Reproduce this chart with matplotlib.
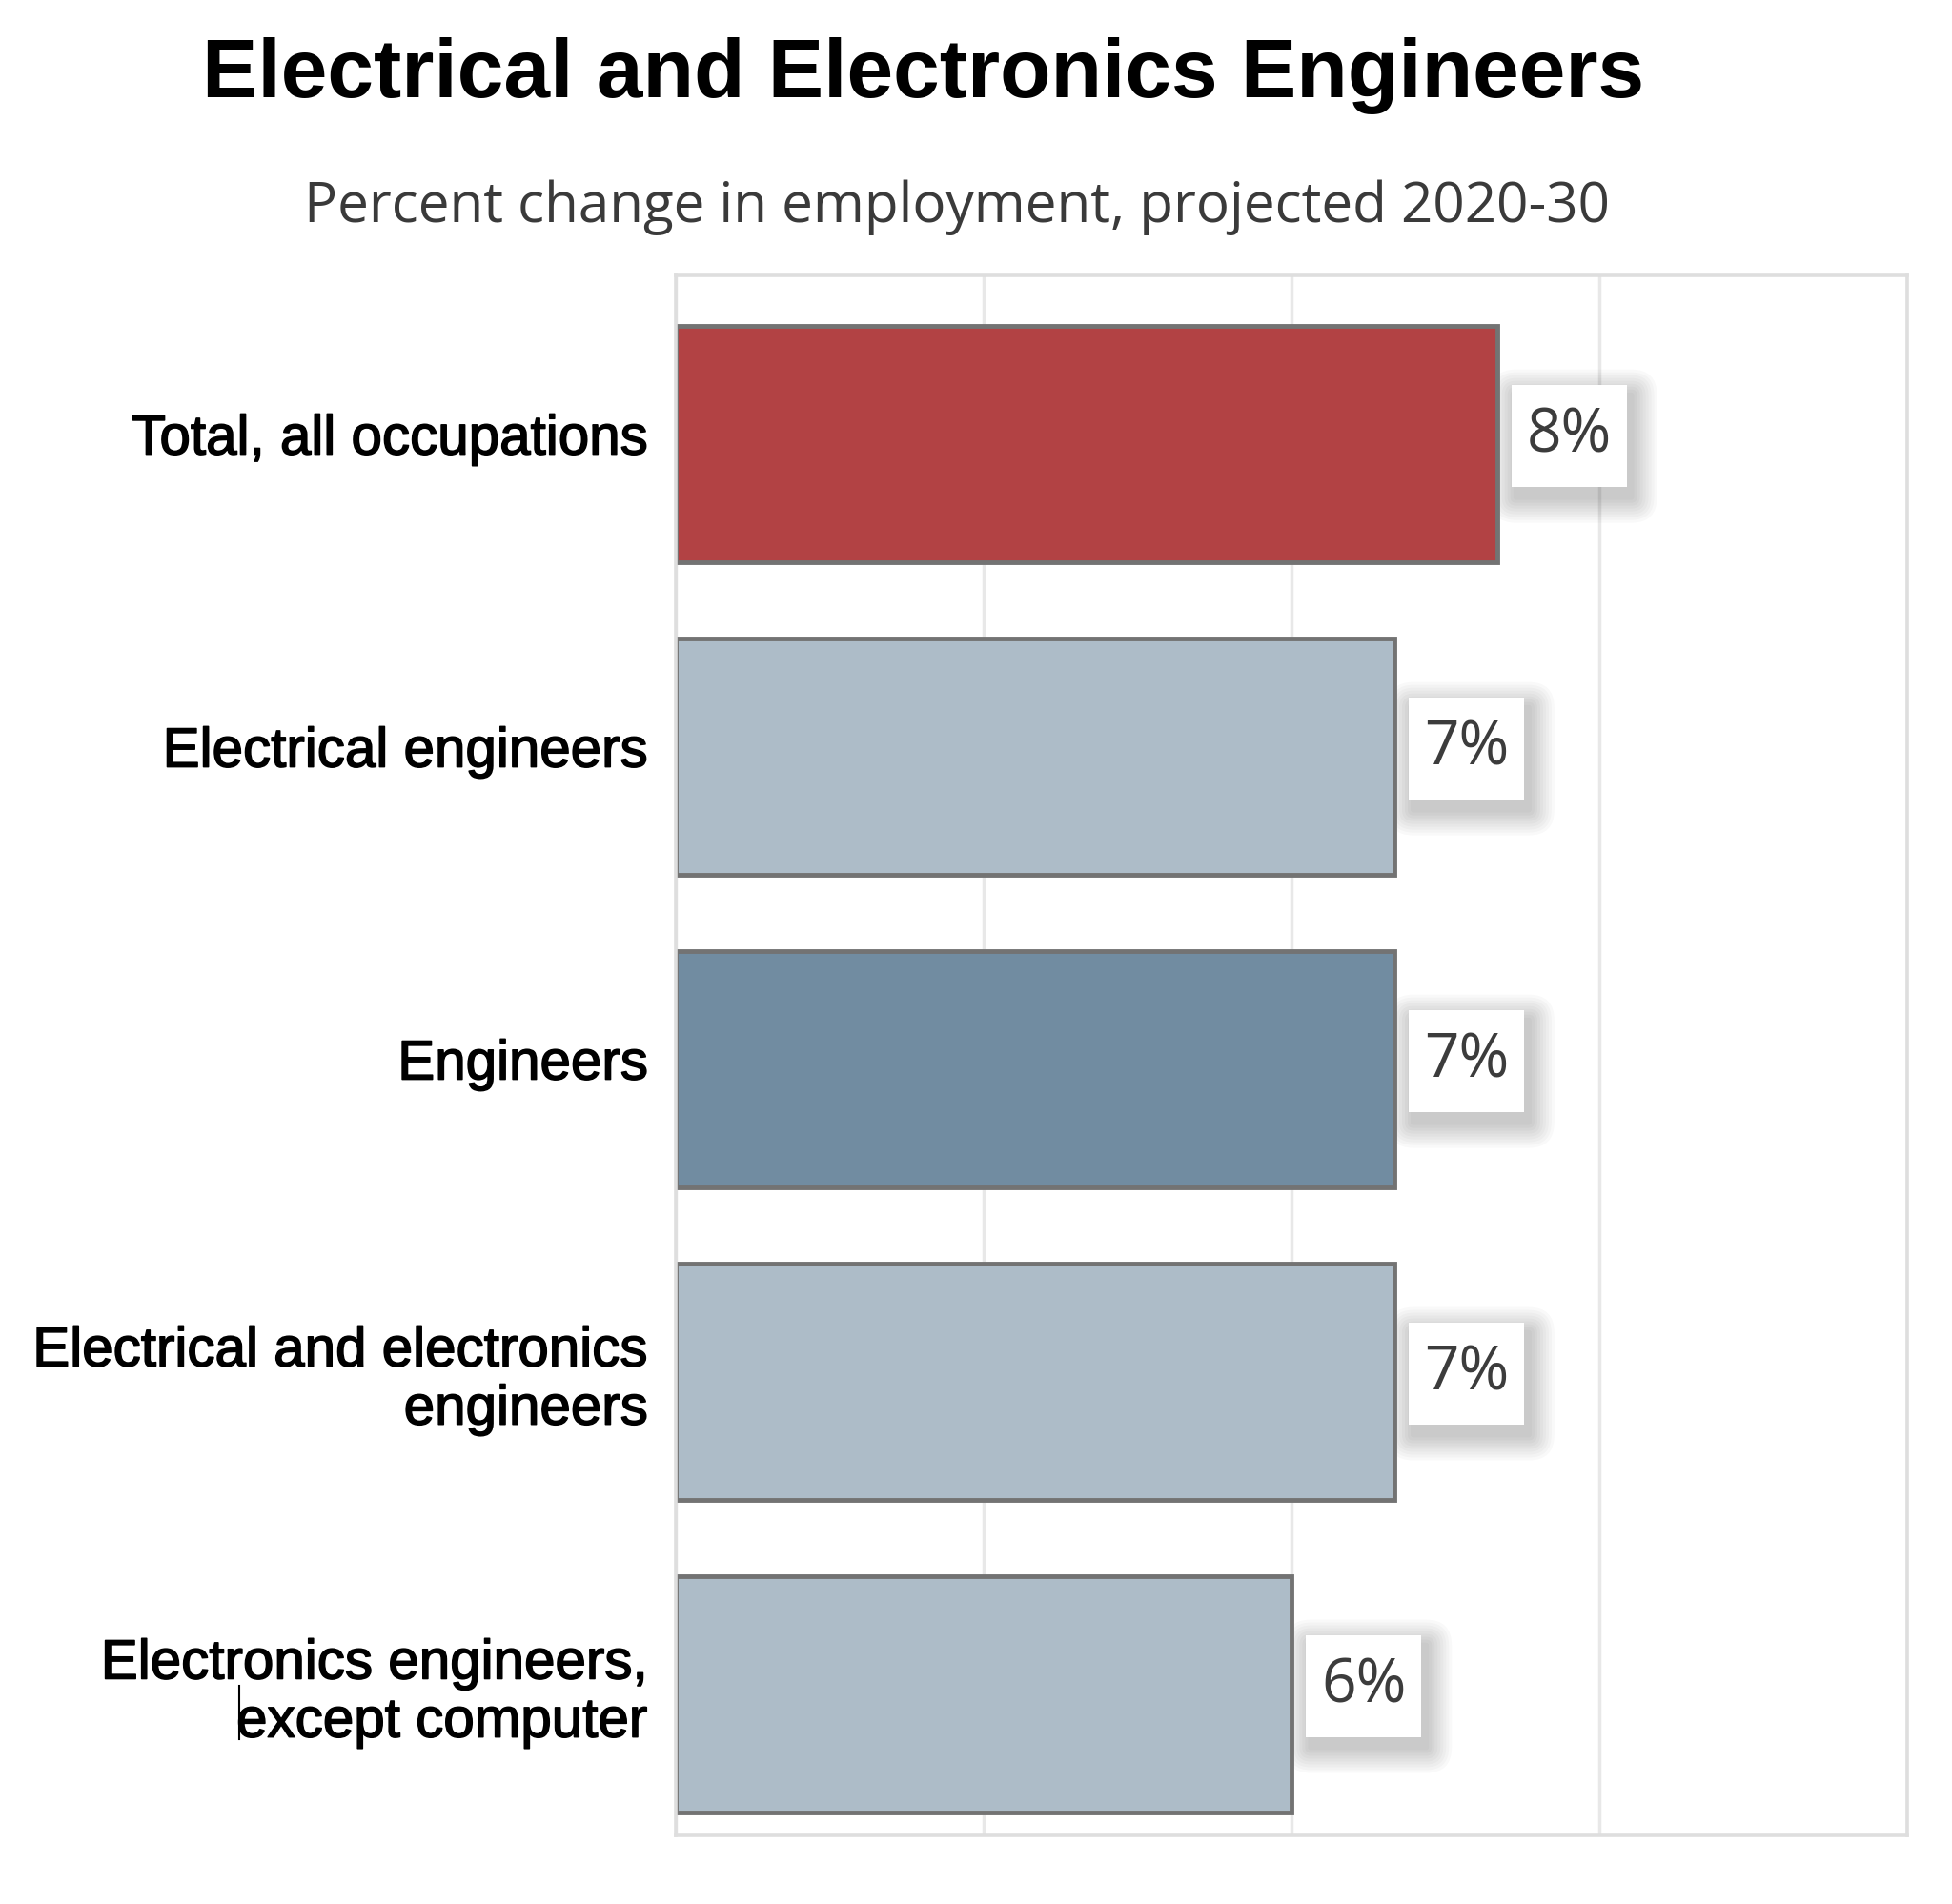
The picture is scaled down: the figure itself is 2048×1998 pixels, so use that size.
import matplotlib
matplotlib.use('Agg')
import matplotlib.pyplot as plt
import matplotlib.patheffects as pe
from matplotlib.lines import Line2D
from matplotlib.patches import FancyBboxPatch
from matplotlib.transforms import ScaledTranslation
import numpy as np

# data
categories = ["Total, all occupations",
              "Electrical engineers",
              "Engineers",
              "Electrical and electronics\nengineers",
              "Electronics engineers,\nexcept computer"]
values = [8, 7, 7, 7, 6]
value_labels = ["8%", "7%", "7%", "7%", "6%"]
bar_colors = ["#b24244", "#adbcc8", "#718ca1", "#adbcc8", "#adbcc8"]

title = "Electrical and Electronics Engineers"
subtitle = "Percent change in employment, projected 2020-30"

fig = plt.figure(figsize=(20.48, 19.99), dpi=100)
ax = fig.add_axes([0.3463, 0.0362, 0.6309, 0.8187])

y = np.arange(len(categories))
ax.barh(y, values, height=0.757, color=bar_colors, edgecolor="#737373",
        linewidth=3.5, zorder=2)

ax.set_xlim(0, 12)
ax.set_ylim(4.45, -0.54)
ax.set_xticks([0, 3, 6, 9, 12])
ax.xaxis.set_ticklabels([])
ax.grid(axis="x", color="#e8e8e8", linewidth=2.5, zorder=0)
ax.set_axisbelow(True)
ax.tick_params(axis="x", length=0)
ax.tick_params(axis="y", length=0, pad=21)
ax.set_yticks(y)
ax.set_yticklabels(categories, fontsize=42, family="Liberation Sans",
                   color="black", linespacing=1.17)
shift_up = ScaledTranslation(0, 0.105, fig.dpi_scale_trans)
for lbl in ax.get_yticklabels():
    lbl.set_transform(lbl.get_transform() + shift_up)
    lbl.set_path_effects([pe.withStroke(linewidth=1.1, foreground="black")])

for side in ["top", "bottom", "left", "right"]:
    ax.spines[side].set_color("#dedede")
    ax.spines[side].set_linewidth(2.6)
    ax.spines[side].set_zorder(3)

# value labels: white box with a soft blurred shadow, sized in inches
box_w, box_h, gap, lift = 1.21, 1.07, 0.15, 0.09
for yi, v, lab in zip(y, values, value_labels):
    tr = fig.dpi_scale_trans + ScaledTranslation(v, yi, ax.transData)
    x0, y0 = gap, lift - box_h / 2
    for k in range(1, 10):
        p = 0.03 * k
        ax.add_patch(FancyBboxPatch((x0 + 0.05, y0 - 0.11), box_w, box_h,
                                    boxstyle="round,pad=%.3f,rounding_size=%.3f" % (p, p),
                                    facecolor="black", edgecolor="none",
                                    alpha=0.024, transform=tr, zorder=1.5,
                                    clip_on=False))
    ax.add_patch(FancyBboxPatch((x0, y0), box_w, box_h, boxstyle="square,pad=0",
                                facecolor="white", edgecolor="none",
                                transform=tr, zorder=4, clip_on=False))
    ax.text(x0 + box_w / 2, lift + 0.01, lab, transform=tr, ha="center",
            va="center", fontsize=46, family="Open Sans", color="#3c3c3c",
            zorder=5)

fig.text(0.4727, 0.949, title, ha="center", va="baseline", fontsize=63,
         fontweight="bold", family="Liberation Sans", color="black")
fig.text(0.4904, 0.8834, subtitle, ha="center", va="baseline", fontsize=42,
         family="Open Sans", color="#3a3a3a")

# stray text cursor seen in the source image
fig.add_artist(Line2D([0.1226, 0.1226], [0.0865, 0.1145], color="black",
                      linewidth=1.5, transform=fig.transFigure))

fig.savefig("out.png", dpi=100, facecolor="white")
